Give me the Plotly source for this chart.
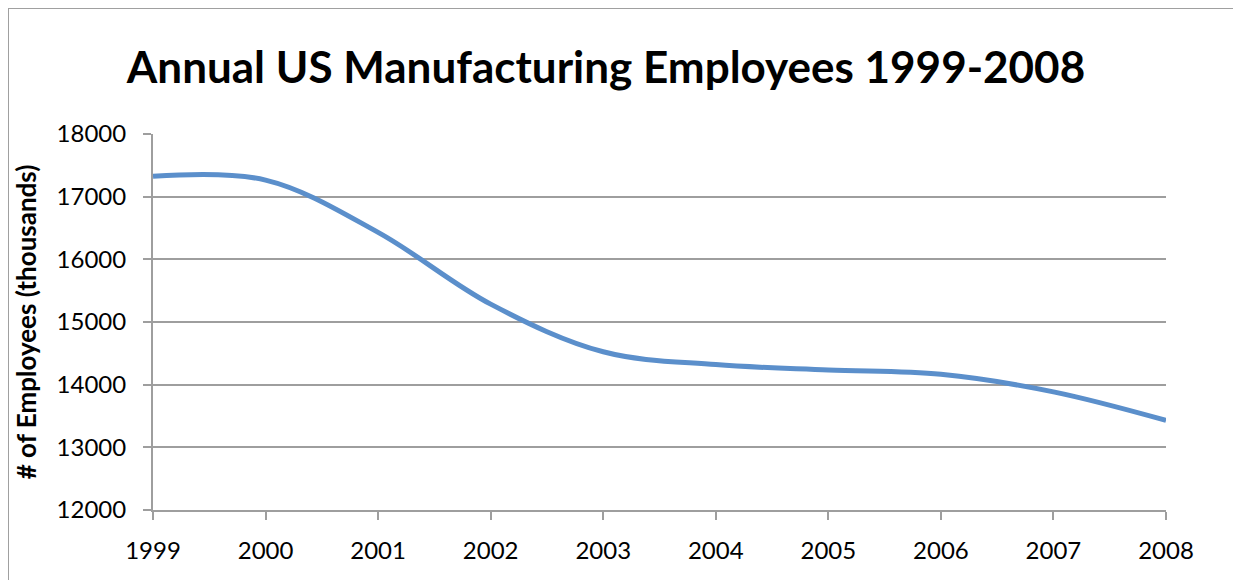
import plotly.graph_objects as go

years = [1999, 2000, 2001, 2002, 2003, 2004, 2005, 2006, 2007, 2008]
employees = [17325, 17265, 16430, 15285, 14525, 14320, 14235, 14165, 13885, 13430]
y_ticks = [12000, 13000, 14000, 15000, 16000, 17000, 18000]

FONT = "Lato"
GRID = "#9E9E9E"
# page body has an 8px margin, so figure coordinates are page - 8
PL, PR, PT, PB = 153, 1166, 134, 510  # plot area in page pixels
OFF = 8
W, H = 1241, 580

fig = go.Figure()
fig.add_trace(go.Scatter(
    x=years, y=employees, mode="lines",
    line=dict(color="#5B8FCB", width=5, shape="spline", smoothing=1.0),
    showlegend=False, hoverinfo="x+y",
))

fig.update_layout(
    width=W, height=H,
    margin=dict(l=PL - OFF, r=W - (PR - OFF), t=PT - OFF, b=H - (PB - OFF)),
    paper_bgcolor="white", plot_bgcolor="white",
    title=dict(text="<b>Annual US Manufacturing Employees 1999-2008</b>",
               x=(606 - OFF) / W, xanchor="center", y=1 - (68 - OFF) / H, yanchor="middle",
               font=dict(family=FONT, size=44, color="black")),
    font=dict(family=FONT, size=24, color="black"),
    xaxis=dict(range=[1999, 2008], tickvals=years, ticktext=[str(y) for y in years],
               showgrid=False, showline=True, linecolor=GRID, linewidth=2,
               ticks="outside", ticklen=8, tickwidth=2, tickcolor=GRID,
               ticklabelstandoff=10, zeroline=False,
               tickfont=dict(family=FONT, size=24, color="black")),
    yaxis=dict(range=[12000, 18000], tickvals=y_ticks, ticktext=[str(v) for v in y_ticks],
               showgrid=True, gridcolor=GRID, gridwidth=2,
               showline=True, linecolor=GRID, linewidth=2,
               ticks="outside", ticklen=8, tickwidth=2, tickcolor=GRID,
               ticklabelstandoff=12, zeroline=False,
               title=dict(text="<b># of Employees (thousands)</b>", standoff=12,
                          font=dict(family=FONT, size=26, color="black")),
               tickfont=dict(family=FONT, size=24, color="black")),
    shapes=[dict(type="rect", xref="paper", yref="paper",
                 x0=(8 - PL) / (PR - PL), x1=1.2, y0=-0.4, y1=(PB - 8) / (PB - PT),
                 line=dict(color="#A0A0A0", width=2), fillcolor="rgba(0,0,0,0)",
                 layer="below")],
)

fig.write_html("out.html")
